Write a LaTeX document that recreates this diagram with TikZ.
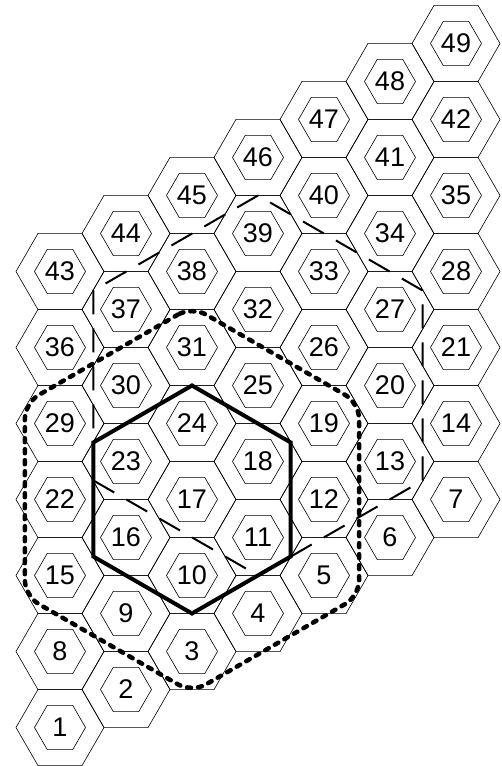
\documentclass[tikz,border=0pt]{standalone}
\usepackage{fontspec}
\setmainfont{Liberation Sans}
\usetikzlibrary{shapes.geometric}
\begin{document}
\begin{tikzpicture}[x=1pt, y=1pt,
    cell/.style={draw, regular polygon, regular polygon sides=6, minimum size=88pt, inner sep=0pt, line width=0.6pt},
    num/.style={draw, regular polygon, regular polygon sides=6, minimum size=51pt, inner sep=0pt, line width=0.6pt, font=\fontsize{27}{32}\selectfont},
    zone/.style={draw, regular polygon, regular polygon sides=6, shape border rotate=30, inner sep=0pt}]
    \useasboundingbox (0,0) rectangle (502,766);
    % cells
    \foreach \j in {0,...,6}
      \foreach \i in {0,...,6} {
        \pgfmathtruncatemacro{\n}{1+\i+7*\j}
        \node[cell] (h\n) at ({60+66*\i}, {38.5+76*\j+38*\i}) {};
        \node[num] (c\n) at (h\n) {\n};
      }
    % clusters
    \node[zone, dash pattern=on 24pt off 14pt, line width=2pt, minimum size=380pt] (wide) at (c25) {};
    \node[zone, dash pattern=on 4pt off 7pt, line cap=round, line width=4.5pt, rounded corners=16pt, minimum size=386pt] (ring) at (c17) {};
    \node[zone, line width=4pt, minimum size=228pt] (core) at (c17) {};
\end{tikzpicture}
\end{document}
